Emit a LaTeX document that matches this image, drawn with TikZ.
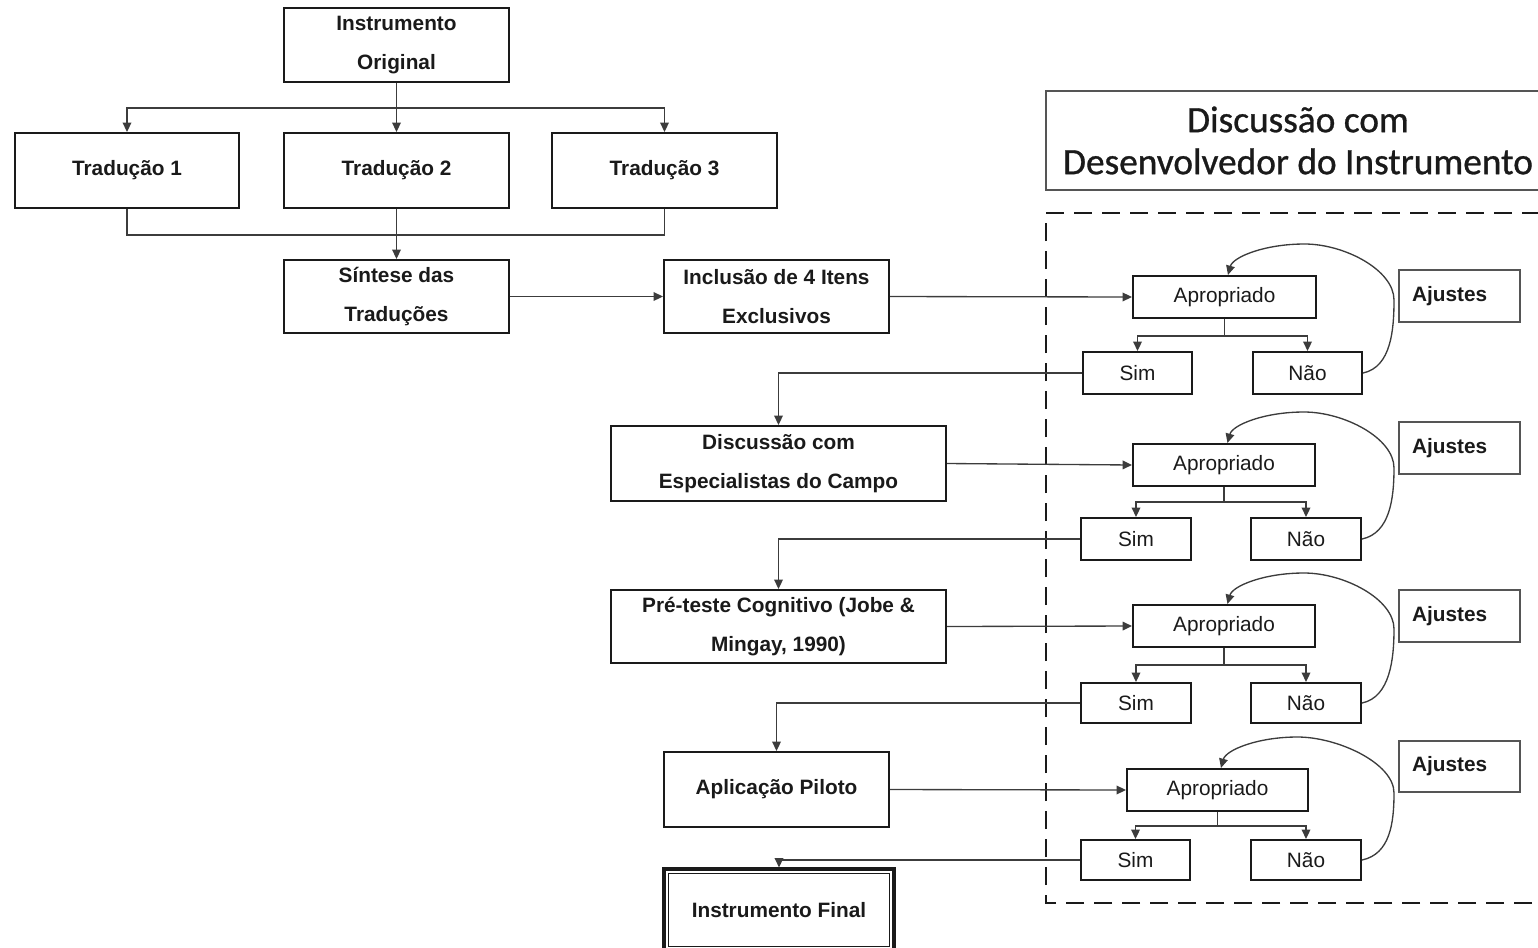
\documentclass[tikz,border=0pt]{standalone}
\usepackage{fontspec}
\setmainfont{Liberation Sans}
\newfontfamily\titlefont[FakeBold=0.8]{Carlito}
\usetikzlibrary{arrows.meta}
\definecolor{ink}{HTML}{1A1A1A}
\definecolor{wirec}{HTML}{3C3C3C}
\definecolor{framec}{HTML}{555555}
\newcommand{\pbox}[7][]{\node[#1, minimum width={(#5-#3)*0.75pt}, minimum height={(#6-#4)*0.75pt}] (#2) at ({(#3+#5)/2},{(#4+#6)/2}) {#7};}
\tikzset{
  box/.style={draw=ink, line width=1.6pt, inner sep=0pt, align=center, text=ink,
    font=\bfseries\fontsize{15.6}{29}\selectfont},
  sbox/.style={draw=ink, line width=1.6pt, inner sep=0pt, text=ink,
    font=\fontsize{15.6}{18}\selectfont},
  ajbox/.style={draw=framec, line width=1pt, inner xsep=9.75pt, inner ysep=0pt, text=ink,
    text width=71.25pt, align=left, font=\bfseries\fontsize{15.6}{18}\selectfont},
  titlebox/.style={draw=framec, line width=1pt, inner sep=0pt, align=center, text=ink,
    font=\titlefont\fontsize{28}{31.5}\selectfont},
  wire/.style={draw=wirec, line width=1pt},
  arr/.style={wire, -{Triangle[length=7pt,width=6.5pt]}},
  dashbox/.style={draw=ink, line width=1.6pt, dash pattern=on 13.5pt off 7.5pt}
}
\begin{document}
\begin{tikzpicture}[x=0.75pt,y=-0.75pt]
\useasboundingbox (0,0) rectangle (1538,947);
% left column
\pbox[box]{orig}{284}{8}{509}{82}{Instrumento\\Original}
\pbox[box]{t1}{15}{133}{239}{208}{Tradução 1}
\pbox[box]{t2}{284}{133}{509}{208}{Tradução 2}
\pbox[box]{t3}{552}{133}{777}{208}{Tradução 3}
\pbox[box]{sint}{284}{260}{509}{333}{Síntese das\\Traduções}
\pbox[box]{incl}{664}{260}{889}{333}{Inclusão de 4 Itens\\Exclusivos}
\pbox[box]{disc}{611}{426}{946}{501}{Discussão com\\Especialistas do Campo}
\pbox[box]{pre}{611}{590}{946}{663}{Pré-teste Cognitivo (Jobe \&\\Mingay, 1990)}
\pbox[box]{apl}{664}{752}{889}{827}{Aplicação Piloto}
\pbox[box, line width=2.4pt]{fin}{664}{869}{894}{951}{Instrumento Final}
\draw[ink, line width=0.9pt] ([shift={(6,6)}]fin.north west) rectangle ([shift={(-6,-6)}]fin.south east);
% top connectors
\coordinate (split) at (396.5,108);
\coordinate (join) at (396.5,235);
\draw[arr] (orig) -- (t2);
\draw[arr] (split) -| (t1.north);
\draw[arr] (split) -| (t3.north);
\draw[wire] (t1.south) |- (join);
\draw[wire] (t3.south) |- (join);
\draw[arr] (t2) -- (sint);
\draw[arr] (sint) -- (incl);
% title and dashed area
\pbox[titlebox]{title}{1046}{91}{1550}{190}{Discussão com\\Desenvolvedor do Instrumento}
\draw[dashbox] (1560,903) -- (1046,903) -- (1046,213) -- (1560,213);
% rows
\foreach \i/\al/\ar/\at/\ab/\sl/\sr/\nl/\nr/\st/\sb/\by/\jt/\jb in {
  1/1133/1316/276/318/1083/1192/1253/1362/352/394/336/270/322,
  2/1133/1315/444/486/1081/1191/1251/1361/518/560/502/422/474,
  3/1133/1315/605/647/1081/1191/1251/1361/683/723/665/590/642,
  4/1127/1308/769/811/1081/1190/1251/1361/840/880/826/741/792}{
  \pbox[sbox]{ap\i}{\al}{\at}{\ar}{\ab}{Apropriado}
  \pbox[sbox]{sim\i}{\sl}{\st}{\sr}{\sb}{Sim}
  \pbox[sbox]{nao\i}{\nl}{\st}{\nr}{\sb}{Não}
  \pbox[ajbox]{aj\i}{1399}{\jt}{1520}{\jb}{Ajustes}
  \coordinate (br\i) at ({(\al+\ar)/2},\by);
  \draw[wire] (ap\i.south) -- (br\i);
  \draw[arr] (br\i) -| (sim\i.north);
  \draw[arr] (br\i) -| (nao\i.north);
  \draw[arr] (nao\i.east) .. controls +(28,-6) and +(0,30) .. (1394,{\at+24})
     .. controls +(0,-30) and +(40,0) .. ({(\al+\ar)/2+80},{\at-32})
     .. controls +(-40,0) and +(5,-18) .. ([xshift=2.6pt]ap\i.north);
}
% incoming arrows
\draw[arr] (incl.east) -- (ap1.west);
\draw[arr] (disc.east) -- (ap2.west);
\draw[arr] (pre.east) -- (ap3.west);
\draw[arr] (apl.east) -- (ap4.west);
% yes outputs
\draw[arr] (sim1.west) -| (disc.north);
\draw[arr] (sim2.west) -| (pre.north);
\draw[arr] (sim3.west) -| (apl.north);
\draw[arr] (sim4.west) -| (fin.north);
\end{tikzpicture}
\end{document}
